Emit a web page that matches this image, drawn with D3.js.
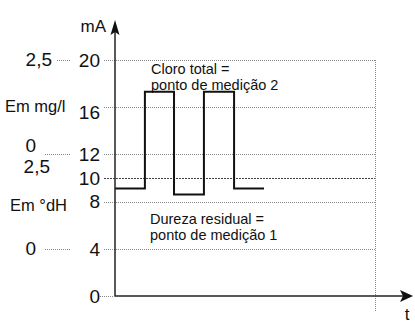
<!DOCTYPE html>
<html><head><meta charset="utf-8">
<script src="https://cdn.jsdelivr.net/npm/d3@7"></script>
<style>
html,body{margin:0;padding:0;background:#fff;}
svg text{font-family:"Liberation Sans",Arial,sans-serif;fill:#111;}
</style></head>
<body><svg id="c" width="415" height="326"></svg>
<script>
// ---- data ----
const mATicks = [0, 4, 8, 10, 12, 16, 20];
const mgTicks = ["2,5", "0"];        // mg/l scale labels
const mgTickMA = [20, 12];
const dhTicks = ["2,5", "0"];        // °dH scale labels
const dhTickMA = [12, 4];
const unitLabels = ["Em mg/l", "Em °dH"];
const signalTime = [0, 11.5, 22.7, 34.2, 45.8, 57.3];
const signalMA = [9.1, 17.3, 8.6, 17.3, 9.1, 9.1];
const annotations = ["Cloro total =", "ponto de medição 2", "Dureza residual =", "ponto de medição 1"];
const yTitle = "mA", xTitle = "t";

// ---- layout ----
const svg = d3.select("#c");
const x0 = 115, xEnd = 375, y0 = 296;
const y = d3.scaleLinear().domain([0, 20]).range([y0, 60]);
const x = d3.scaleLinear().domain([0, 100]).range([x0, xEnd]);

// grid lines
const grid = svg.append("g");
mATicks.forEach(v => {
  const yy = Math.round(y(v)) + 0.5;
  grid.append("line")
    .attr("x1", v === 0 ? 100 : 104).attr("x2", v === 0 ? x0 : xEnd)
    .attr("y1", yy).attr("y2", yy)
    .attr("stroke", v === 10 ? "#444" : "#888")
    .attr("stroke-width", 1)
    .attr("stroke-dasharray", v === 10 ? "2,1" : "1,1");
});
// right vertical dotted
grid.append("line")
  .attr("x1", xEnd + 0.5).attr("x2", xEnd + 0.5)
  .attr("y1", y(20)).attr("y2", 311)
  .attr("stroke", "#888").attr("stroke-dasharray", "1,1");

// mA tick labels
const mAOffset = {16: 5};
svg.append("g").selectAll("text").data(mATicks).join("text")
  .attr("x", 100).attr("y", d => y(d) + (mAOffset[d] || 0))
  .attr("dy", "0.36em").attr("text-anchor", "end")
  .style("font-size", "19px").text(d => d);

// left secondary scales
const left = svg.append("g");
mgTicks.forEach((lab, i) => {
  const v = mgTickMA[i];
  const yy = Math.round(y(v)) + 0.5;
  const dyOff = v === 12 ? -9 : -1;
  left.append("text").attr("x", v === 12 ? 36 : 52).attr("y", y(v) + dyOff)
    .attr("dy", "0.36em").attr("text-anchor", "end")
    .style("font-size", "19px").text(lab);
  left.append("line").attr("x1", v === 12 ? 45 : 57).attr("x2", 70)
    .attr("y1", yy).attr("y2", yy)
    .attr("stroke", "#888").attr("stroke-dasharray", "1,1");
});
dhTicks.forEach((lab, i) => {
  const v = dhTickMA[i];
  const yy = Math.round(y(v)) + 0.5;
  const dyOff = v === 12 ? 12 : -1;
  left.append("text").attr("x", v === 12 ? 50 : 36).attr("y", y(v) + dyOff)
    .attr("dy", "0.36em").attr("text-anchor", "end")
    .style("font-size", "19px").text(lab);
  if (v !== 12) {
    left.append("line").attr("x1", 45).attr("x2", 70)
      .attr("y1", yy).attr("y2", yy)
      .attr("stroke", "#888").attr("stroke-dasharray", "1,1");
  }
});
left.append("text").attr("x", 5).attr("y", 112).style("font-size", "16.5px").text(unitLabels[0]);
left.append("text").attr("x", 10).attr("y", 210.5).style("font-size", "16.5px").text(unitLabels[1]);

// signal
const line = d3.line().x(d => x(d[0])).y(d => y(d[1])).curve(d3.curveStepAfter);
svg.append("path")
  .datum(signalTime.map((t, i) => [t, signalMA[i]]))
  .attr("d", line).attr("fill", "none")
  .attr("stroke", "#111").attr("stroke-width", 2);

// axes
const ax = svg.append("g");
ax.append("line").attr("x1", x0).attr("x2", x0).attr("y1", y0).attr("y2", 30)
  .attr("stroke", "#222").attr("stroke-width", 1.5);
ax.append("path").attr("d", `M${x0},20 L${x0 + 4.5},35 L${x0},32 L${x0 - 4.5},35 Z`).attr("fill", "#111");
ax.append("line").attr("x1", x0).attr("x2", 405).attr("y1", y0).attr("y2", y0)
  .attr("stroke", "#222").attr("stroke-width", 1.5);
ax.append("path").attr("d", `M413,${y0} L400,${y0 - 6} L403,${y0} L400,${y0 + 6} Z`).attr("fill", "#111");
ax.append("text").attr("x", 106).attr("y", 32).attr("text-anchor", "end").style("font-size", "17px").text(yTitle);
ax.append("text").attr("x", 407).attr("y", 320).attr("text-anchor", "middle").style("font-size", "17px").text(xTitle);

// annotations
const an = svg.append("g").style("font-size", "14.5px");
an.append("text").attr("x", 151).attr("y", 74).text(annotations[0]);
an.append("text").attr("x", 151).attr("y", 90).text(annotations[1]);
an.append("text").attr("x", 150).attr("y", 224).text(annotations[2]);
an.append("text").attr("x", 150).attr("y", 240).text(annotations[3]);
</script></body></html>
